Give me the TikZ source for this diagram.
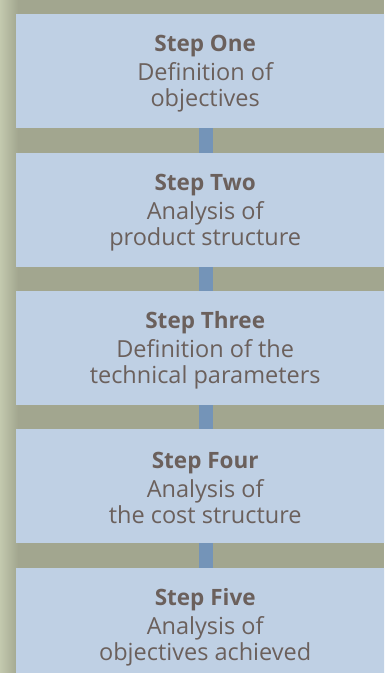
\documentclass[tikz,border=0pt]{standalone}
\usepackage{fontspec}
\setmainfont{Open Sans}
\usetikzlibrary{positioning}
\definecolor{bgcol}{HTML}{A2A68F}
\definecolor{stripcol}{HTML}{C3C9AE}
\definecolor{boxcol}{HTML}{BFD0E4}
\definecolor{linkcol}{HTML}{7494B8}
\definecolor{txtcol}{HTML}{6B605C}
\tikzset{
  stepbox/.style={fill=boxcol, draw=none, minimum width=378bp, minimum height=114bp,
    inner sep=0pt, anchor=north west},
  steplabel/.style={align=center, text=txtcol, inner sep=0pt, yshift=-2bp,
    font=\fontsize{23.5bp}{26bp}\selectfont},
  link/.style={draw=linkcol, line width=14bp},
}
% soft shadow behind a box given by its north-west corner
\newcommand{\boxshade}[2]{%
  \foreach \k in {1,...,7}{
    \fill[black, opacity=0.035] (#1-\k bp+1bp,#2-\k bp+2bp) rectangle (#1+378bp+\k bp,#2+114bp+\k bp+2bp);
  }}
\newcommand{\steptext}[2]{{\fontsize{22.5bp}{26bp}\selectfont\bfseries #1}\\[3bp]#2}
\begin{document}
\begin{tikzpicture}[x=1bp,y=-1bp]
  \useasboundingbox (0,0) rectangle (384,673);
  \begin{scope}
    \clip (0,0) rectangle (384,673);
    \fill[bgcol] (0,0) rectangle (384,673);
    \shade[left color=stripcol, right color=bgcol] (0,0) rectangle (18,673);
    \foreach \y in {14,153,291,429,568}{\boxshade{16}{\y}}
    \node[stepbox, label={[steplabel]center:\steptext{Step One}{Definition of\\objectives}}] (s1) at (16,14) {};
    \node[stepbox, label={[steplabel]center:\steptext{Step Two}{Analysis of\\product structure}}] (s2) at (16,153) {};
    \node[stepbox, label={[steplabel]center:\steptext{Step Three}{Definition of the\\technical parameters}}] (s3) at (16,291) {};
    \node[stepbox, label={[steplabel]center:\steptext{Step Four}{Analysis of\\the cost structure}}] (s4) at (16,429) {};
    \node[stepbox, label={[steplabel]center:\steptext{Step Five}{Analysis of\\objectives achieved}}] (s5) at (16,568) {};
    \foreach \a/\b in {s1/s2,s2/s3,s3/s4,s4/s5}{
      \draw[link] ([xshift=1bp]\a.south) -- ([xshift=1bp]\b.north);
    }
  \end{scope}
\end{tikzpicture}
\end{document}
